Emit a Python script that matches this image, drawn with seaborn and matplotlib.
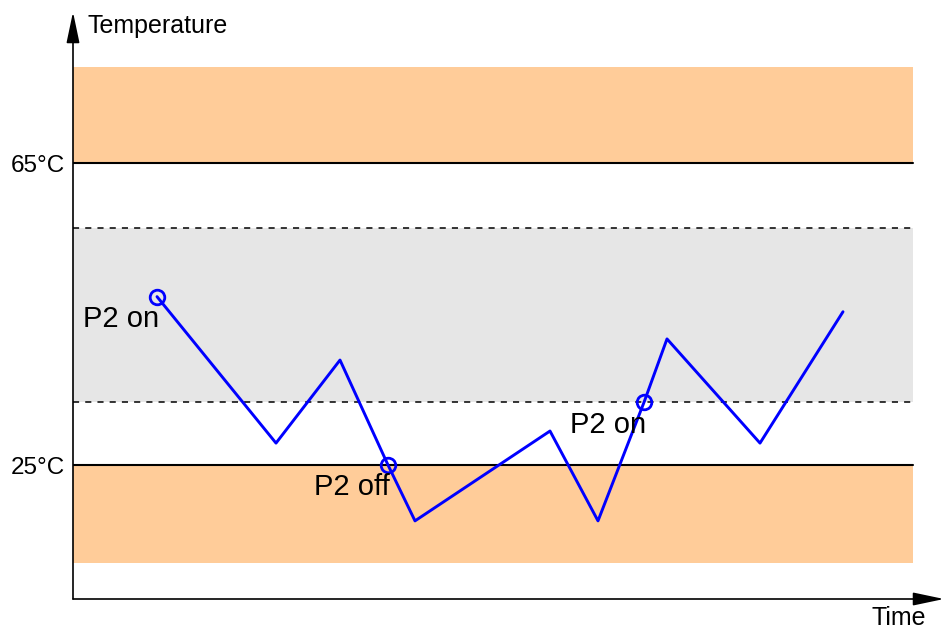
import matplotlib
matplotlib.use('Agg')
import matplotlib.pyplot as plt
import seaborn as sns
import pandas as pd

# Data
time = [8.4, 20.3, 26.7, 31.5, 34.2, 47.7, 52.5, 57.1, 59.4, 68.7, 77.0]
temp = [47.3, 27.9, 38.9, 25.0, 17.6, 29.5, 17.6, 33.3, 41.7, 27.9, 45.3]
event_idx = [0, 3, 7]
event_labels = ['P2 on', 'P2 off', 'P2 on']

limit_temps = [25, 65]
tick_labels = ['25°C', '65°C']
hyst_band = [33.3, 56.4]
alarm_low = [12.0, 25]
alarm_high = [65, 77.7]
band_end = 84.0

sns.set_style('white')
plt.rcParams['font.family'] = ['Liberation Sans', 'DejaVu Sans']
plt.rcParams['text.color'] = 'black'

W, H = 944, 630
fig = plt.figure(figsize=(W / 100, H / 100), dpi=100)
ax = fig.add_axes([73 / W, 31 / H, (W - 73) / W, (630 - 31 - 12) / H])
ax.set_xlim(0, 87.1)
ax.set_ylim(25 - (599 - 465) / 7.55, 25 + (465 - 12) / 7.55)

orange = '#FFCC99'
ax.fill_between([0, band_end], alarm_high[0], alarm_high[1], color=orange, lw=0, zorder=1)
ax.fill_between([0, band_end], alarm_low[0], alarm_low[1], color=orange, lw=0, zorder=1)
ax.fill_between([0, band_end], hyst_band[0], hyst_band[1], color='#E6E6E6', lw=0, zorder=1)

for t in limit_temps:
    ax.plot([0, band_end], [t, t], color='black', lw=1.5, zorder=2)
for t in hyst_band:
    ax.plot([0, band_end], [t, t], color='black', lw=1.1, ls=(0, (4, 4)), zorder=2)

df = pd.DataFrame({'time': time, 'temp': temp})
sns.lineplot(data=df, x='time', y='temp', sort=False, color='#0000FF',
             lw=2.1, ax=ax, zorder=3)
ev = df.iloc[event_idx]
ax.plot(ev['time'], ev['temp'], ls='none', marker='o', ms=10.5, mfc='none',
        mec='#0000FF', mew=2.0, zorder=4)
for (_, r), lab in zip(ev.iterrows(), event_labels):
    ax.annotate(lab, (r['time'], r['temp']), xytext=(-26, -16),
                textcoords='offset points', ha='center', va='center',
                fontsize=21, color='black', zorder=5)

ax.set_yticks(limit_temps)
ax.set_yticklabels(tick_labels, fontsize=17.5, color='black')
ax.set_xticks([])
ax.tick_params(axis='y', length=0, pad=6)
ax.set_xlabel('')
ax.set_ylabel('')
for s in ['top', 'right', 'left', 'bottom']:
    ax.spines[s].set_visible(False)

arrow = dict(arrowstyle='-|>,head_length=0.95,head_width=0.2', color='black',
             lw=1.2, mutation_scale=20, shrinkA=0, shrinkB=0)
ax.annotate('', xy=(0, 1), xytext=(0, 0), xycoords='axes fraction',
            arrowprops=arrow, annotation_clip=False)
ax.annotate('', xy=(1, 0), xytext=(0, 0), xycoords='axes fraction',
            arrowprops=arrow, annotation_clip=False)

fig.text(88 / W, 1 - 33 / H, 'Temperature', fontsize=18, va='baseline', ha='left')
fig.text(871 / W, 1 - 625 / H, 'Time', fontsize=18, va='baseline', ha='left')

fig.savefig('out.png', dpi=100)
